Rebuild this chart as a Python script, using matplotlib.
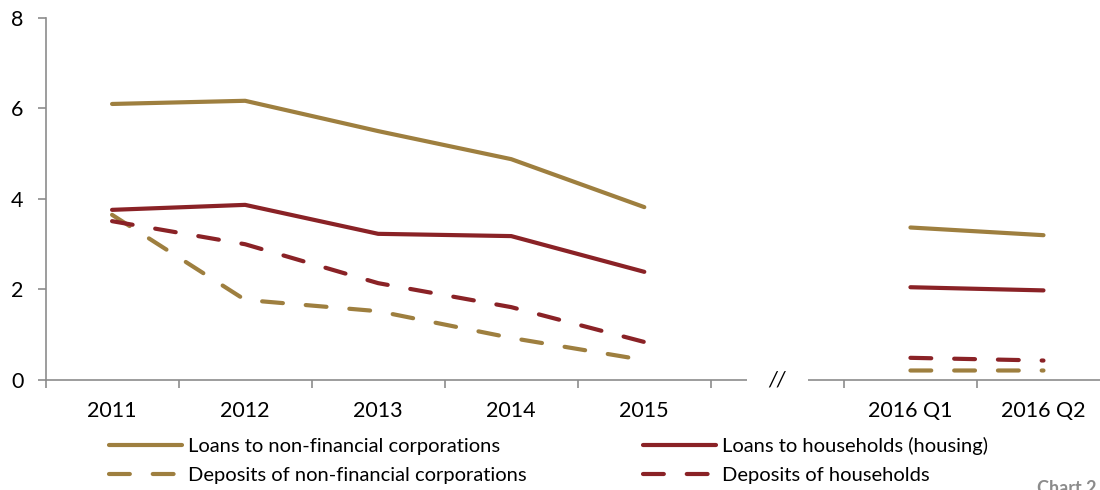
import numpy as np
import matplotlib.pyplot as plt
from matplotlib.patches import Rectangle

plt.rcParams['font.family'] = ['Lato', 'DejaVu Sans']

# categories (the empty slot holds the axis break)
periods = ['2011', '2012', '2013', '2014', '2015', '', '2016 Q1', '2016 Q2']

loans_nfc = [6.10, 6.17, 5.50, 4.88, 3.82, np.nan, 3.37, 3.20]
loans_hh = [3.76, 3.87, 3.23, 3.18, 2.39, np.nan, 2.05, 1.98]
deposits_nfc = [3.65, 1.77, 1.52, 0.93, 0.44, np.nan, 0.21, 0.21]
deposits_hh = [3.51, 3.00, 2.14, 1.61, 0.84, np.nan, 0.49, 0.43]

gold = '#9E7F3F'
maroon = '#8A2226'
axis_grey = '#8C8C8C'

fig = plt.figure(figsize=(11, 4.9), dpi=100)
ax = fig.add_axes([0.0414, 0.2245, 0.9677, 0.7388])

x = np.arange(len(periods))
lw = 3.0
dash = (5, 5.5)

l1, = ax.plot(x, loans_nfc, color=gold, lw=lw, solid_capstyle='round',
              label='Loans to non-financial corporations')
l2, = ax.plot(x, deposits_nfc, color=gold, lw=lw, dashes=dash,
              dash_capstyle='round', label='Deposits of non-financial corporations')
l3, = ax.plot(x, loans_hh, color=maroon, lw=lw, solid_capstyle='round',
              label='Loans to households (housing)')
l4, = ax.plot(x, deposits_hh, color=maroon, lw=lw, dashes=dash,
              dash_capstyle='round', label='Deposits of households')

ax.set_xlim(-0.5, len(periods) - 0.5)
ax.set_ylim(0, 8)
ax.set_yticks([0, 2, 4, 6, 8])

# ticks sit between categories, labels at the centres
ax.set_xticks(np.arange(-0.5, len(periods), 1.0))
ax.set_xticklabels([])
ax.set_xticks(x, minor=True)
ax.set_xticklabels(periods, minor=True)
ax.tick_params(axis='x', which='minor', length=0, pad=15, labelsize=15.5)
ax.tick_params(axis='x', which='major', length=6, width=1.2, color=axis_grey)
ax.tick_params(axis='y', length=6, width=1.2, color=axis_grey, pad=10,
               labelsize=15.5)

for side in ['top', 'right']:
    ax.spines[side].set_visible(False)
for side in ['left', 'bottom']:
    ax.spines[side].set_color(axis_grey)
    ax.spines[side].set_linewidth(1.2)

# axis break
ax.add_patch(Rectangle((4.77, -0.15), 0.46, 0.3, facecolor='white',
                       edgecolor='none', clip_on=False, zorder=5))
ax.text(5.0, 0.0, '//', ha='center', va='center', fontsize=15,
        style='italic', zorder=6, clip_on=False)

fig.legend(handles=[l1, l2, l3, l4], ncol=2, loc='upper left',
           bbox_to_anchor=(0.092, 0.1245), frameon=False, fontsize=14.5,
           handlelength=3.6, handletextpad=0.3, columnspacing=5.8,
           labelspacing=0.6, borderaxespad=0)

fig.text(0.943, 0.02, 'Chart 2', color='#8C8C8C', fontsize=13,
         fontweight='bold', va='top')

fig.savefig('out.png', dpi=100)
